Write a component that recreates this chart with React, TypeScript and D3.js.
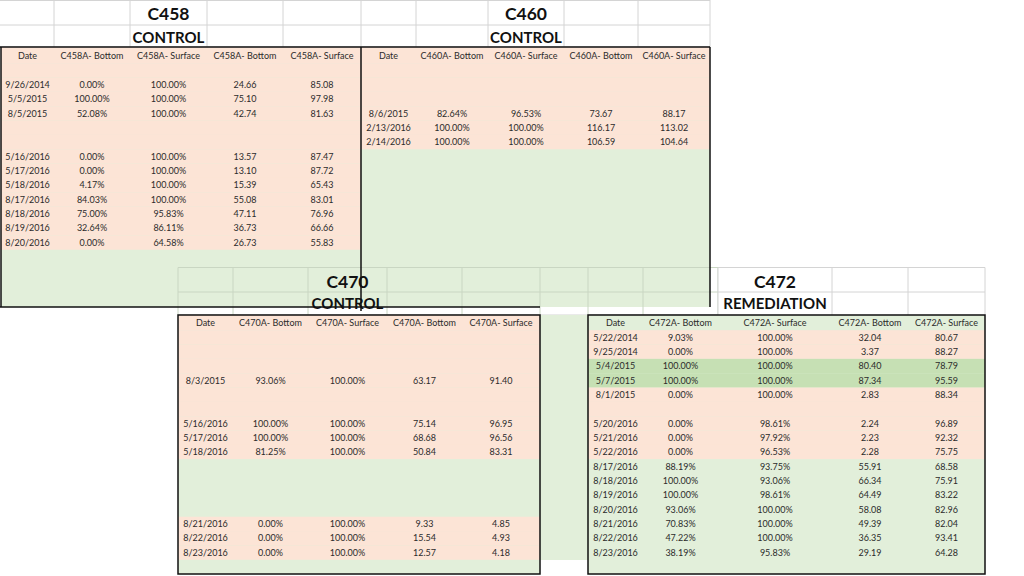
import React from "react";
import * as d3 from "d3";

// ---------- data ----------
const c458Headers = ["Date", "C458A- Bottom", "C458A- Surface", "C458A- Bottom", "C458A- Surface"];
const c458Dates = [null, "9/26/2014", "5/5/2015", "8/5/2015", null, null, "5/16/2016", "5/17/2016", "5/18/2016", "8/17/2016", "8/18/2016", "8/19/2016", "8/20/2016"];
const c458BottomPct = [null, 0.0, 100.0, 52.08, null, null, 0.0, 0.0, 4.17, 84.03, 75.0, 32.64, 0.0];
const c458SurfacePct = [null, 100.0, 100.0, 100.0, null, null, 100.0, 100.0, 100.0, 100.0, 95.83, 86.11, 64.58];
const c458Bottom = [null, 24.66, 75.1, 42.74, null, null, 13.57, 13.1, 15.39, 55.08, 47.11, 36.73, 26.73];
const c458Surface = [null, 85.08, 97.98, 81.63, null, null, 87.47, 87.72, 65.43, 83.01, 76.96, 66.66, 55.83];

const c460Headers = ["Date", "C460A- Bottom", "C460A- Surface", "C460A- Bottom", "C460A- Surface"];
const c460Dates = [null, null, null, "8/6/2015", "2/13/2016", "2/14/2016"];
const c460BottomPct = [null, null, null, 82.64, 100.0, 100.0];
const c460SurfacePct = [null, null, null, 96.53, 100.0, 100.0];
const c460Bottom = [null, null, null, 73.67, 116.17, 106.59];
const c460Surface = [null, null, null, 88.17, 113.02, 104.64];

const c470Headers = ["Date", "C470A- Bottom", "C470A- Surface", "C470A- Bottom", "C470A- Surface"];
const c470Dates = [null, null, null, "8/3/2015", null, null, "5/16/2016", "5/17/2016", "5/18/2016", null, null, null, null, "8/21/2016", "8/22/2016", "8/23/2016"];
const c470BottomPct = [null, null, null, 93.06, null, null, 100.0, 100.0, 81.25, null, null, null, null, 0.0, 0.0, 0.0];
const c470SurfacePct = [null, null, null, 100.0, null, null, 100.0, 100.0, 100.0, null, null, null, null, 100.0, 100.0, 100.0];
const c470Bottom = [null, null, null, 63.17, null, null, 75.14, 68.68, 50.84, null, null, null, null, 9.33, 15.54, 12.57];
const c470Surface = [null, null, null, 91.4, null, null, 96.95, 96.56, 83.31, null, null, null, null, 4.85, 4.93, 4.18];

const c472Headers = ["Date", "C472A- Bottom", "C472A- Surface", "C472A- Bottom", "C472A- Surface"];
const c472Dates = ["5/22/2014", "9/25/2014", "5/4/2015", "5/7/2015", "8/1/2015", null, "5/20/2016", "5/21/2016", "5/22/2016", "8/17/2016", "8/18/2016", "8/19/2016", "8/20/2016", "8/21/2016", "8/22/2016", "8/23/2016"];
const c472BottomPct = [9.03, 0.0, 100.0, 100.0, 0.0, null, 0.0, 0.0, 0.0, 88.19, 100.0, 100.0, 93.06, 70.83, 47.22, 38.19];
const c472SurfacePct = [100.0, 100.0, 100.0, 100.0, 100.0, null, 98.61, 97.92, 96.53, 93.75, 93.06, 98.61, 100.0, 100.0, 100.0, 95.83];
const c472Bottom = [32.04, 3.37, 80.4, 87.34, 2.83, null, 2.24, 2.23, 2.28, 55.91, 66.34, 64.49, 58.08, 49.39, 36.35, 29.19];
const c472Surface = [80.67, 88.27, 78.79, 95.59, 88.34, null, 96.89, 92.32, 75.75, 68.58, 75.91, 83.22, 82.96, 82.04, 93.41, 64.28];

// row highlight (header row first): s = salmon, g = light green, G = green
const c458Shade = "ssssssssssssss";
const c460Shade = "sssssss";
const c470Shade = "ssssssssssggggsss";
const c472Shade = "gssGGsssssggggggg";

// ---------- styles ----------
const SALMON = "#FCE4D6";
const LGREEN = "#E2EFDA";
const DGREEN = "#C6E0B4";
const GRID = "#D4D4D4";
const GRIDG = "#C9D6C2";
const FONT = "Lato, 'Open Sans', sans-serif";
const TXT = "#2b2b2b";
const shadeColor: Record<string, string> = { s: SALMON, g: LGREEN, G: DGREEN };

const fmtPct = (v: number | null) => (v == null ? "" : d3.format(".2f")(v) + "%");
const fmtNum = (v: number | null) => (v == null ? "" : d3.format(".2f")(v));

type TableProps = {
  edges: number[];
  top: number;
  bottom: number;
  firstRowY: number;
  headers: string[];
  dates: (string | null)[];
  bPct: (number | null)[];
  sPct: (number | null)[];
  b: (number | null)[];
  s: (number | null)[];
  shade: string;
  base: string;
  border?: boolean;
};

function DataTable(p: TableProps) {
  const step = 14.35;
  const y = d3.scaleLinear().domain([0, 1]).range([p.firstRowY, p.firstRowY + step]);
  const cx = (i: number) => (p.edges[i] + p.edges[i + 1]) / 2;
  const left = p.edges[0];
  const right = p.edges[p.edges.length - 1];
  const rows = p.dates.map((d, i) => [d ?? "", fmtPct(p.bPct[i]), fmtPct(p.sPct[i]), fmtNum(p.b[i]), fmtNum(p.s[i])]);
  return (
    <g>
      <rect x={left} y={p.top} width={right - left} height={p.bottom - p.top} fill={p.base} />
      {p.shade.split("").map((c, k) => {
        const y0 = k === 0 ? p.top : y(k - 0.5);
        const y1 = y(k + 0.5);
        return <rect key={k} x={left} y={y0} width={right - left} height={y1 - y0} fill={shadeColor[c]} />;
      })}
      {p.headers.map((h, i) => (
        <text key={"h" + i} x={cx(i)} y={y(0)} dy="0.35em" textAnchor="middle" fontSize={9} fill={TXT} fontFamily={FONT}>
          {h}
        </text>
      ))}
      {rows.map((r, k) =>
        r.map((t, i) =>
          t ? (
            <text key={k + "-" + i} x={cx(i)} y={y(k + 1)} dy="0.35em" textAnchor="middle" fontSize={9} fill={TXT} fontFamily={FONT}>
              {t}
            </text>
          ) : null
        )
      )}
      {p.border !== false && (
        <rect x={left} y={p.top} width={right - left} height={p.bottom - p.top} fill="none" stroke="#111" strokeWidth={1.5} />
      )}
    </g>
  );
}

function Titles({ cx, name, kind, y1, y2 }: { cx: number; name: string; kind: string; y1: number; y2: number }) {
  return (
    <g fontFamily={FONT} fontWeight="bold" fill="#111" textAnchor="middle">
      <text x={cx} y={y1} dy="0.35em" fontSize={17.5}>{name}</text>
      <text x={cx} y={y2} dy="0.35em" fontSize={15}>{kind}</text>
    </g>
  );
}

export default function App() {
  const e458 = [1, 54, 130, 207, 283, 361];
  const e460 = [361, 416, 488, 564, 638, 710];
  const e470 = [178, 233, 308, 387, 462, 540];
  const e472 = [588, 643, 718, 832, 908, 985];
  const topGridX = [54, 130, 207, 283, 361, 416, 488, 564, 638, 710];
  const c470GridX = [178, 233, 308, 387, 462, 540, 588, 643, 718];
  const c472GridX = [718, 832, 908, 985];
  return (
    <svg width={1024} height={576} style={{ position: "absolute", left: 0, top: 0, background: "#fff" }}>
      <rect x={0} y={0} width={1024} height={576} fill="#fff" />
      {/* top header grid */}
      {[0.5, 25, 47].map((yy) => (
        <line key={"th" + yy} x1={0} x2={710} y1={yy} y2={yy} stroke={GRID} />
      ))}
      {topGridX.map((xx) => (
        <line key={"tv" + xx} x1={xx} x2={xx} y1={0} y2={47} stroke={GRID} />
      ))}
      <Titles cx={168.5} name="C458" kind="CONTROL" y1={14} y2={37.5} />
      <Titles cx={526} name="C460" kind="CONTROL" y1={14} y2={37.5} />

      <DataTable edges={e458} top={47} bottom={307} firstRowY={56} headers={c458Headers} dates={c458Dates}
        bPct={c458BottomPct} sPct={c458SurfacePct} b={c458Bottom} s={c458Surface} shade={c458Shade} base={LGREEN} border={false} />
      <DataTable edges={e460} top={47} bottom={307} firstRowY={56} headers={c460Headers} dates={c460Dates}
        bPct={c460BottomPct} sPct={c460SurfacePct} b={c460Bottom} s={c460Surface} shade={c460Shade} base={LGREEN} border={false} />

      {/* C470 header strip */}
      <rect x={178} y={307} width={540} height={8} fill="#fff" />
      {[267.5, 292].map((yy) => (
        <line key={"ch" + yy} x1={178} x2={718} y1={yy} y2={yy} stroke={GRIDG} />
      ))}
      {c470GridX.map((xx) => (
        <line key={"cv" + xx} x1={xx} x2={xx} y1={267.5} y2={315} stroke={GRIDG} />
      ))}
      <line x1={178} x2={718} y1={315} y2={315} stroke={GRID} />
      <Titles cx={347.5} name="C470" kind="CONTROL" y1={281.5} y2={304} />

      {/* outer black lines of top tables */}
      <line x1={0} x2={710} y1={47} y2={47} stroke="#111" strokeWidth={1.5} />
      <line x1={1} x2={1} y1={47} y2={307} stroke="#111" strokeWidth={1.5} />
      <line x1={361} x2={361} y1={47} y2={311} stroke="#111" strokeWidth={1.5} />
      <line x1={710} x2={710} y1={47} y2={307} stroke="#111" strokeWidth={1.5} />
      <line x1={0} x2={540} y1={307} y2={307} stroke="#111" strokeWidth={1.5} />

      {/* C470 table */}
      <rect x={540} y={315} width={48} height={245} fill={LGREEN} />
      <DataTable edges={e470} top={315} bottom={574} firstRowY={323} headers={c470Headers} dates={c470Dates}
        bPct={c470BottomPct} sPct={c470SurfacePct} b={c470Bottom} s={c470Surface} shade={c470Shade} base={LGREEN} />

      {/* C472 header */}
      <rect x={718} y={267.5} width={267} height={47.5} fill="#fff" />
      {[267.5, 292].map((yy) => (
        <line key={"dh" + yy} x1={718} x2={985} y1={yy} y2={yy} stroke={GRID} />
      ))}
      {c472GridX.map((xx) => (
        <line key={"dv" + xx} x1={xx} x2={xx} y1={267.5} y2={315} stroke={GRID} />
      ))}
      <Titles cx={775} name="C472" kind="REMEDIATION" y1={281.5} y2={304} />

      {/* C472 table */}
      <DataTable edges={e472} top={315} bottom={574} firstRowY={323} headers={c472Headers} dates={c472Dates}
        bPct={c472BottomPct} sPct={c472SurfacePct} b={c472Bottom} s={c472Surface} shade={c472Shade} base={LGREEN} />
    </svg>
  );
}
